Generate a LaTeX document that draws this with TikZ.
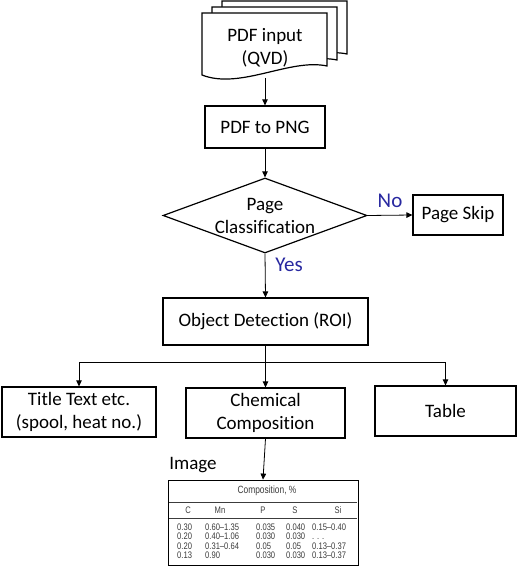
\documentclass[tikz,border=0pt]{standalone}
\usepackage{fontspec}
\setmainfont{Carlito}[Ligatures={NoCommon}]
\newfontfamily\tabfont[FakeStretch=0.8]{Liberation Sans}
\usetikzlibrary{arrows.meta,shapes.geometric}
\definecolor{lblblue}{RGB}{40,40,160}
\definecolor{tabgray}{RGB}{60,60,60}
\tikzset{
  box/.style={draw=black, line width=1.2pt, fill=white, align=center, inner sep=0pt},
  arr/.style={draw=black, line width=0.8pt, -{Triangle[length=6pt,width=5.5pt]}},
  conn/.style={draw=black, line width=0.8pt},
  doc/.style={draw=black, line width=1.2pt, fill=white},
  lbl/.style={text=lblblue, font=\fontsize{21}{24}\selectfont, inner sep=0pt},
  tabtxt/.style={text=tabgray, font=\tabfont\fontsize{9.5}{10}\selectfont, inner sep=0pt, anchor=base west},
  tabhead/.style={text=tabgray, font=\tabfont\fontsize{9.5}{10}\selectfont, inner sep=0pt, anchor=base},
}
\begin{document}
\begin{tikzpicture}[x=1pt,y=-1pt, font=\fontsize{19}{23}\selectfont]
\useasboundingbox (0,0) rectangle (518,567);
% multi-document
\foreach \dx/\dy in {20/-12,10/-6,0/0}{
  \begin{scope}[shift={(\dx,\dy)}]
    \path[doc] (202,13) -- (327,13) -- (327,66) .. controls (290,58) and (240,90) .. (202,75) -- cycle;
  \end{scope}
}
\node[align=center, inner sep=0pt] (doc) at (265,48) {PDF input\\(QVD)};
\coordinate (docb) at (265,78);
% boxes
\node[box, minimum width=120pt, minimum height=42pt] (png) at (265,127) {PDF to PNG};
\node[draw=black, line width=1.2pt, shape=diamond, aspect=2.7, minimum width=204pt, minimum height=75pt, inner sep=0pt, align=center] (cls) at (265,215.5) {Page\\Classification};
\node[box, minimum width=90pt, minimum height=40pt] (skip) at (458,215) {Page Skip};
\node[box, minimum width=205pt, minimum height=47pt] (od) at (265.5,321.5) {Object Detection (ROI)};
\node[box, minimum width=154pt, minimum height=50pt] (title) at (79,412) {Title Text etc.\\(spool, heat no.)};
\node[box, minimum width=159pt, minimum height=50pt] (chem) at (265.5,413) {Chemical\\Composition};
\node[box, minimum width=141pt, minimum height=50pt] (tab) at (445.5,411) {Table};
% labels
\node[lbl] (no) at (390,201) {No};
\node[lbl] (yes) at (289,265) {Yes};
\node[inner sep=0pt] (imglbl) at (193,465) {Image};
% connectors
\draw[arr] (docb) -- (png);
\draw[arr] (png) -- (cls);
\draw[arr] (cls.east) -- (skip.west);
\draw[arr] (cls.south) -- (od.north);
\coordinate (split) at (265.5,362);
\draw[conn] (od.south) -- (split);
\draw[arr] (split) -| (title.north);
\draw[arr] (split) -| (tab.north);
\draw[arr] (split) -- (chem.north);
% table image
\node[draw=black, line width=0.8pt, fill=white, minimum width=190pt, minimum height=85pt, inner sep=0pt] (img) at (263,522.5) {};
\draw[arr] (chem.south) -- (img.north);
\draw[tabgray, line width=0.5pt] (169,502) -- (357,502);
\draw[tabgray, line width=0.5pt] (169,518) -- (357,518);
\node[text=tabgray, font=\tabfont\fontsize{10.5}{11}\selectfont, inner sep=0pt] (hdr) at (267,491) {Composition, \%};
\node[tabhead] (hc) at (188,513) {C};
\node[tabhead] (hmn) at (220,513) {Mn};
\node[tabhead] (hp) at (263,513) {P};
\node[tabhead] (hs) at (295,513) {S};
\node[tabhead] (hsi) at (338,513) {Si};
\foreach \y/\c/\mn/\p/\s/\si [count=\i] in {530/0.30/0.60–1.35/0.035/0.040/0.15–0.40, 539/0.20/0.40–1.06/0.030/0.030/. . ., 549/0.20/0.31–0.64/0.05/0.05/0.13–0.37, 558/0.13/0.90/0.030/0.030/0.13–0.37}{
  \node[tabtxt] (c\i) at (177,\y) {\c};
  \node[tabtxt] (mn\i) at (205,\y) {\mn};
  \node[tabtxt] (p\i) at (256,\y) {\p};
  \node[tabtxt] (s\i) at (286,\y) {\s};
  \node[tabtxt] (si\i) at (312,\y) {\si};
}
\end{tikzpicture}
\end{document}
